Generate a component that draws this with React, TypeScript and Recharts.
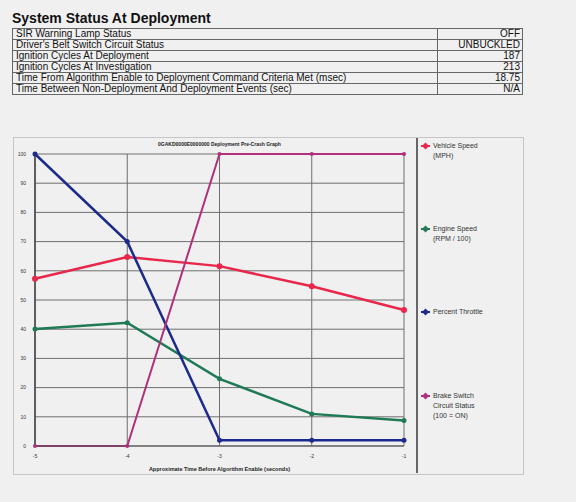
import React from "react";
import { LineChart, Line, XAxis, YAxis, CartesianGrid } from "recharts";

const statusLabels = [
  "SIR Warning Lamp Status",
  "Driver's Belt Switch Circuit Status",
  "Ignition Cycles At Deployment",
  "Ignition Cycles At Investigation",
  "Time From Algorithm Enable to Deployment Command Criteria Met (msec)",
  "Time Between Non-Deployment And Deployment Events (sec)",
];
const statusValues = ["OFF", "UNBUCKLED", "187", "213", "18.75", "N/A"];

const times = [-5, -4, -3, -2, -1];
const vehicleSpeed = [57.3, 64.7, 61.6, 54.7, 46.6];
const engineSpeed = [40.1, 42.2, 23.0, 11.0, 8.7];
const percentThrottle = [100, 70, 2, 2, 2];
const brakeSwitch = [0, 0, 100, 100, 100];
const yTicks = [0, 10, 20, 30, 40, 50, 60, 70, 80, 90, 100];

const series = [
  { key: "speed", lines: ["Vehicle Speed", "(MPH)"], color: "#e8274b", values: vehicleSpeed, r: 3, w: 2.5 },
  { key: "rpm", lines: ["Engine Speed", "(RPM / 100)"], color: "#1f7a55", values: engineSpeed, r: 2.5, w: 2.5 },
  { key: "throttle", lines: ["Percent Throttle"], color: "#1c2a8c", values: percentThrottle, r: 2.5, w: 2.5 },
  { key: "brake", lines: ["Brake Switch", "Circuit Status", "(100 = ON)"], color: "#b0307c", values: brakeSwitch, r: 2, w: 2 },
];

const data = times.map((t, i) => {
  const row: Record<string, number> = { t };
  series.forEach((s) => (row[s.key] = s.values[i]));
  return row;
});

const legendTops = [141, 224, 307, 391];
const font = "'Liberation Sans', Arial, sans-serif";
const tick = { fill: "#333", fontSize: 5, fontFamily: font };

export default function App() {
  return (
    <div
      style={{
        position: "absolute",
        left: 0,
        top: 0,
        width: 576,
        height: 502,
        background: "#f0f0f0",
        fontFamily: font,
        color: "#111",
        overflow: "hidden",
      }}
    >
      <div style={{ position: "absolute", left: 12, top: 10, fontSize: 14, fontWeight: "bold" }}>
        System Status At Deployment
      </div>
      <table
        style={{
          position: "absolute",
          left: 12,
          top: 28,
          width: 511,
          borderCollapse: "collapse",
          fontSize: 10,
          lineHeight: "10px",
        }}
      >
        <tbody>
          {statusLabels.map((label, i) => (
            <tr key={label} style={{ height: 11 }}>
              <td style={{ border: "1px solid #666", padding: "0 3px", whiteSpace: "nowrap" }}>{label}</td>
              <td style={{ border: "1px solid #666", padding: "0 2px", width: 80, textAlign: "right" }}>
                {statusValues[i]}
              </td>
            </tr>
          ))}
        </tbody>
      </table>

      <div
        style={{
          position: "absolute",
          left: 13,
          top: 137,
          width: 509,
          height: 336,
          border: "1px solid #c6c6c6",
        }}
      />
      <div style={{ position: "absolute", left: 13, top: 137 }}>
        <LineChart width={510} height={337} data={data} margin={{ top: 17, right: 119, bottom: 0, left: 0 }}>
          <CartesianGrid stroke="#6e6e6e" strokeWidth={1} />
          <XAxis
            dataKey="t"
            type="number"
            domain={[-5, -1]}
            ticks={times}
            height={28}
            tick={tick}
            tickLine={false}
            axisLine={{ stroke: "#555" }}
            tickMargin={2}
            label={{
              value: "Approximate Time Before Algorithm Enable (seconds)",
              position: "insideBottom",
              offset: 3,
              style: { fontSize: 5.5, fill: "#222", fontFamily: font, fontWeight: "bold" },
            }}
          />
          <YAxis
            type="number"
            domain={[0, 100]}
            ticks={yTicks}
            width={22}
            tick={tick}
            tickLine={false}
            axisLine={{ stroke: "#444", strokeWidth: 1.5 }}
            tickMargin={3}
          />
          {series.map((s) => (
            <Line
              key={s.key}
              dataKey={s.key}
              stroke={s.color}
              strokeWidth={s.w}
              dot={{ r: s.r, fill: s.color, stroke: s.color, strokeWidth: 0 }}
              isAnimationActive={false}
            />
          ))}
        </LineChart>
      </div>

      <div
        style={{
          position: "absolute",
          left: 35,
          width: 369,
          top: 141,
          textAlign: "center",
          fontSize: 5,
          fontWeight: "bold",
          color: "#222",
        }}
      >
        0GAKD0000E0000000 Deployment Pre-Crash Graph
      </div>

      <div style={{ position: "absolute", left: 416, top: 138, width: 1.5, height: 335, background: "#666" }} />
      {series.map((s, i) => (
        <div key={s.key} style={{ position: "absolute", left: 421, top: legendTops[i], fontSize: 7, lineHeight: "10px", color: "#333" }}>
          <svg width={10} height={8} style={{ position: "absolute", left: 0, top: 1 }}>
            <line x1={0} y1={4} x2={9} y2={4} stroke={s.color} strokeWidth={2} />
            <rect x={2} y={1.5} width={5} height={5} fill={s.color} transform="rotate(45 4.5 4)" />
          </svg>
          <div style={{ marginLeft: 12 }}>
            {s.lines.map((l) => (
              <div key={l}>{l}</div>
            ))}
          </div>
        </div>
      ))}
    </div>
  );
}
